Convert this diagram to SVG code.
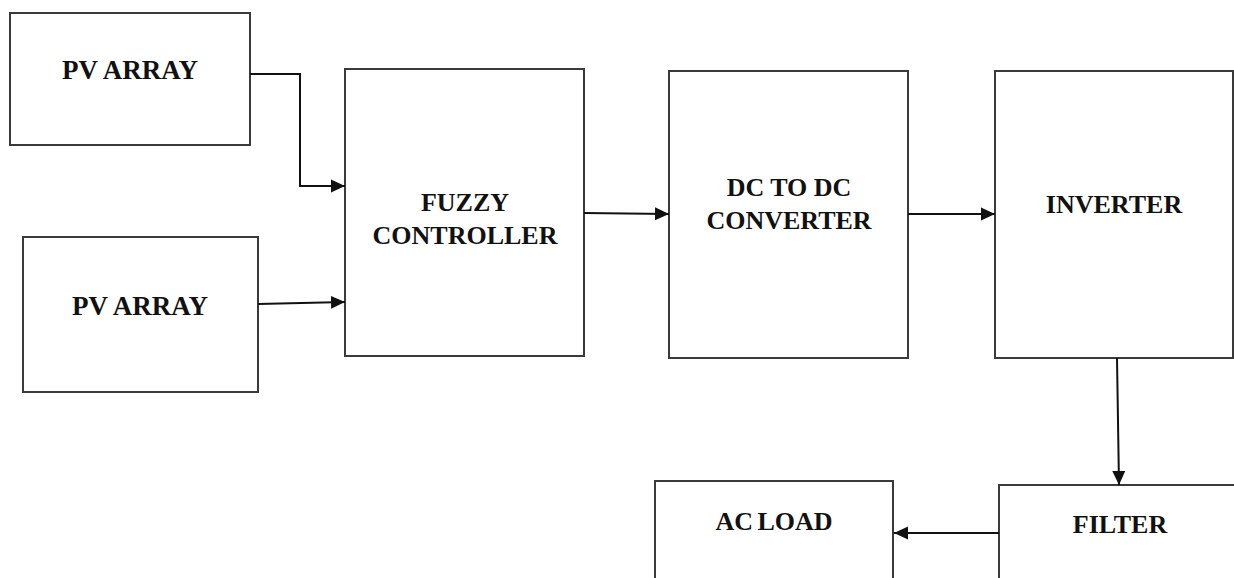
<svg xmlns="http://www.w3.org/2000/svg" width="1234" height="578" viewBox="0 0 1234 578">
<style>
.box{fill:#fff;stroke:#3a3a3a;stroke-width:2}
.lbl{font-family:"Liberation Serif","Times New Roman",serif;font-weight:bold;font-size:26px;fill:#111;text-anchor:middle}
.big{font-size:27px}
.con{fill:none;stroke:#111;stroke-width:2}
</style>
<defs>
<marker id="arr" markerUnits="userSpaceOnUse" markerWidth="14" markerHeight="14" viewBox="0 0 14 14" refX="14" refY="7" orient="auto">
<path d="M0,0.5 L14,7 L0,13.5 Z" fill="#111"/>
</marker>
</defs>
<rect width="1234" height="578" fill="#fff"/>
<g id="pv1"><rect class="box" x="10" y="13" width="240" height="132"/><text class="lbl big" x="130" y="79">PV ARRAY</text></g>
<g id="pv2"><rect class="box" x="23" y="237" width="235" height="155"/><text class="lbl big" x="140" y="315">PV ARRAY</text></g>
<g id="fuzzy"><rect class="box" x="345" y="69" width="239" height="287"/><text class="lbl" x="465" y="211">FUZZY</text><text class="lbl" x="465" y="244">CONTROLLER</text></g>
<g id="dcdc"><rect class="box" x="669" y="71" width="239" height="287"/><text class="lbl" x="789" y="196">DC TO DC</text><text class="lbl" x="789" y="229">CONVERTER</text></g>
<g id="inverter"><rect class="box" x="995" y="71" width="238" height="287"/><text class="lbl" x="1114" y="213">INVERTER</text></g>
<g id="filter"><rect class="box" x="999" y="485" width="245" height="110"/><text class="lbl" x="1120" y="533">FILTER</text></g>
<g id="acload"><rect class="box" x="655" y="481" width="238" height="110"/><text class="lbl" x="774" y="530" word-spacing="-2">AC LOAD</text></g>
<g id="connectors">
<polyline class="con" points="250,74 300,74 300,186 345,186" marker-end="url(#arr)"/>
<line class="con" x1="258" y1="304" x2="345" y2="302" marker-end="url(#arr)"/>
<line class="con" x1="584" y1="213" x2="669" y2="214" marker-end="url(#arr)"/>
<line class="con" x1="908" y1="214" x2="995" y2="214" marker-end="url(#arr)"/>
<line class="con" x1="1117" y1="358" x2="1119" y2="485" marker-end="url(#arr)"/>
<line class="con" x1="999" y1="533" x2="894" y2="533" marker-end="url(#arr)"/>
</g>
</svg>
